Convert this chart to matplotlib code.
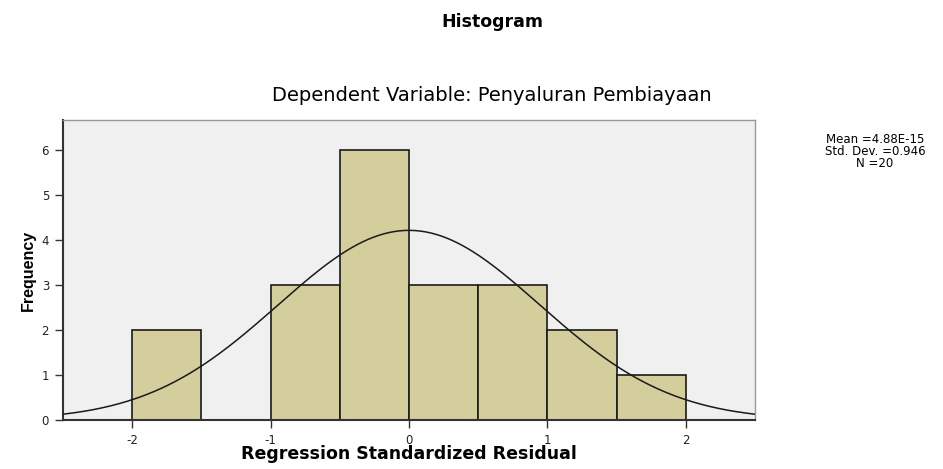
import numpy as np
import matplotlib.pyplot as plt

# bin edges and frequencies
bin_edges = [-2.0, -1.5, -1.0, -0.5, 0.0, 0.5, 1.0, 1.5, 2.0]
counts = [2, 0, 3, 6, 3, 3, 2, 1]

mean = 4.88e-15
std_dev = 0.946
n = 20
bin_width = 0.5

plt.rcParams['font.family'] = ['DejaVu Sans']
plt.rcParams['axes.unicode_minus'] = False

fig = plt.figure(figsize=(9.43, 4.69), dpi=100)
ax = fig.add_axes([0.0668, 0.1045, 0.7338, 0.6395])
ax.set_facecolor('#f0f0f0')

lefts = np.array(bin_edges[:-1])
ax.bar(lefts, counts, width=np.diff(bin_edges), align='edge',
       color='#d3ce9b', edgecolor='#1a1a1a', linewidth=1.2, zorder=2)

# normal curve scaled to the histogram
x = np.linspace(-2.5, 2.5, 400)
y = n * bin_width / (std_dev * np.sqrt(2 * np.pi)) * np.exp(-0.5 * ((x - mean) / std_dev) ** 2)
ax.plot(x, y, color='#1a1a1a', linewidth=1.1, zorder=3)

ax.set_xlim(-2.5, 2.5)
ax.set_ylim(0, 6.67)
ax.set_xticks([-2, -1, 0, 1, 2])
ax.set_yticks(range(0, 7))
ax.tick_params(labelsize=8.5, length=6, width=1, color='#333333', labelcolor='#222222', pad=4)

for side in ['top', 'right']:
    ax.spines[side].set_color('#999999')
    ax.spines[side].set_linewidth(1)
for side in ['left', 'bottom']:
    ax.spines[side].set_color('#333333')
    ax.spines[side].set_linewidth(1.5)

ax.set_xlabel('Regression Standardized Residual', fontsize=12.5, fontweight='bold')
ax.xaxis.set_label_coords(0.5, -0.085)
ax.set_ylabel('Frequency', fontsize=11.5, fontweight='bold',
              family=['Liberation Sans Narrow', 'Liberation Sans'], labelpad=4)

fig.text(0.522, 0.953, 'Histogram', ha='center', va='center', fontsize=12.5, fontweight='bold')
fig.text(0.522, 0.797, 'Dependent Variable: Penyaluran Pembiayaan', ha='center', va='center',
         fontsize=14)
fig.text(0.928, 0.676, 'Mean =4.88E-15\nStd. Dev. =0.946\nN =20', ha='center', va='center',
         fontsize=8.5, linespacing=0.9)

fig.savefig('out.png', dpi=100)
